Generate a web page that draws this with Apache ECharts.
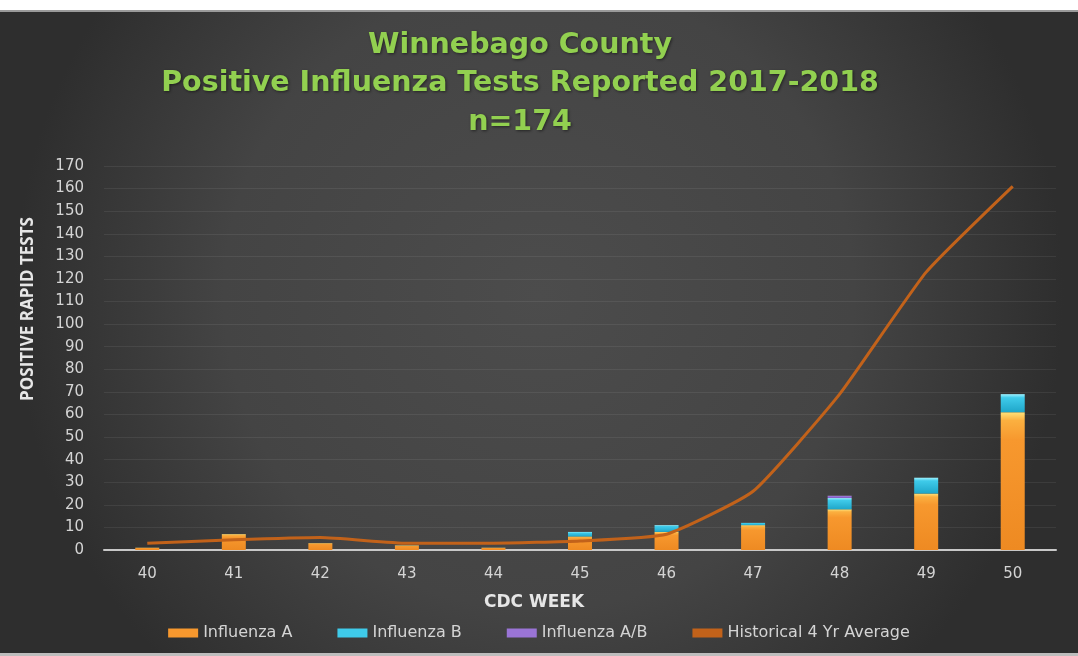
<!DOCTYPE html>
<html>
<head>
<meta charset="utf-8">
<script src="https://cdn.jsdelivr.net/npm/echarts@6/dist/echarts.min.js"></script>
<style>
html,body{margin:0;padding:0;background:#fff;}
#chart{width:1078px;height:656px;}
</style>
</head>
<body>
<div id="chart"></div>
<script>
const weeks = ['40','41','42','43','44','45','46','47','48','49','50'];
const influenzaA  = [1, 7, 3, 2, 1, 6, 8, 11, 18, 25, 61];
const influenzaB  = [0, 0, 0, 0, 0, 2, 3, 1, 5, 7, 8];
const influenzaAB = [0, 0, 0, 0, 0, 0, 0, 0, 1, 0, 0];
const historical  = [3, 4.5, 5.5, 3, 3, 4, 7, 26, 69, 123, 161];
const yTicks = { min: 0, max: 170, interval: 10 };

const chart = echarts.init(document.getElementById('chart'));
const labelColor = '#d4d4d4';
const wideFont = '"DejaVu Sans", sans-serif';
const openFont = '"Open Sans", "Liberation Sans", sans-serif';

const orange = new echarts.graphic.LinearGradient(0,0,0,1,[
  {offset:0,color:'#ffe27a'},{offset:0.06,color:'#fbb040'},{offset:0.2,color:'#f7982e'},{offset:1,color:'#ee8a22'}]);
const cyan = new echarts.graphic.LinearGradient(0,0,0,1,[
  {offset:0,color:'#9ff2ff'},{offset:0.2,color:'#3fcbea'},{offset:1,color:'#1fa6c9'}]);
const purple = new echarts.graphic.LinearGradient(0,0,0,1,[
  {offset:0,color:'#c6a8f0'},{offset:0.3,color:'#9a74d6'},{offset:1,color:'#7d58bf'}]);

chart.setOption({
  backgroundColor: new echarts.graphic.RadialGradient(0.5,0.45,0.8,[
    {offset:0,color:'#4c4c4c'},{offset:0.6,color:'#444444'},{offset:1,color:'#2e2e2e'}]),
  animation:false,
  graphic:[
    {type:'rect',left:0,top:0,shape:{width:1078,height:10},style:{fill:'#ffffff'},z:-1},
    {type:'rect',left:0,top:10,shape:{width:1078,height:2},style:{fill:'#9a9a9a'},z:-1},
    {type:'rect',left:0,top:653,shape:{width:1078,height:3},style:{fill:'#bdbdbd'},z:-1}
  ],
  title:{
    text:'Winnebago County\nPositive Influenza Tests Reported 2017-2018\nn=174',
    left:515, top:21, textAlign:'center',
    textStyle:{color:'#92d050',fontFamily:wideFont,fontWeight:'bold',fontSize:28.5,lineHeight:38.5,
      textShadowColor:'rgba(0,0,0,0.5)',textShadowBlur:3,textShadowOffsetX:1,textShadowOffsetY:1}
  },
  legend:{
    bottom:10, left:'center', itemWidth:30, itemHeight:9, itemGap:45,
    textStyle:{color:labelColor,fontSize:16,fontFamily:wideFont},
    data:[
      {name:'Influenza A',icon:'rect',itemStyle:{color:'#f7982e'}},
      {name:'Influenza B',icon:'rect',itemStyle:{color:'#3fcbea'}},
      {name:'Influenza A/B',icon:'rect',itemStyle:{color:'#9a74d6'}},
      {name:'Historical 4 Yr Average',icon:'rect',itemStyle:{color:'#c2621a'},itemHeight:3}
    ]
  },
  grid:{left:104,right:22,top:166,bottom:106,containLabel:false},
  xAxis:{
    type:'category', data:weeks,
    axisLine:{lineStyle:{color:'#c8c8c8',width:2}},
    axisTick:{show:false},
    axisLabel:{color:labelColor,fontSize:15,fontFamily:wideFont,margin:17},
    name:'CDC WEEK', nameLocation:'middle', nameGap:44,
    nameTextStyle:{color:'#e6e6e6',fontSize:17,fontWeight:'bold',fontFamily:wideFont,padding:[0,92,0,0]}
  },
  yAxis:{
    type:'value', min:yTicks.min, max:yTicks.max, interval:yTicks.interval,
    axisLine:{show:false}, axisTick:{show:false},
    axisLabel:{color:labelColor,fontSize:15,fontFamily:wideFont,margin:20},
    splitLine:{lineStyle:{color:'rgba(255,255,255,0.07)',width:1}},
    name:'POSITIVE RAPID TESTS', nameLocation:'middle', nameGap:67, nameRotate:90,
    nameTextStyle:{color:'#e6e6e6',fontSize:17,fontWeight:'bold',fontFamily:openFont,padding:[0,0,0,98]}
  },
  series:[
    {name:'Influenza A',type:'bar',stack:'t',barWidth:24,data:influenzaA,itemStyle:{color:orange}},
    {name:'Influenza B',type:'bar',stack:'t',barWidth:24,data:influenzaB,itemStyle:{color:cyan}},
    {name:'Influenza A/B',type:'bar',stack:'t',barWidth:24,data:influenzaAB,itemStyle:{color:purple}},
    {name:'Historical 4 Yr Average',type:'line',data:historical,smooth:0.15,symbol:'none',
      lineStyle:{color:'#c2621a',width:3},itemStyle:{color:'#c2621a'},z:5}
  ]
});
</script>
</body>
</html>
